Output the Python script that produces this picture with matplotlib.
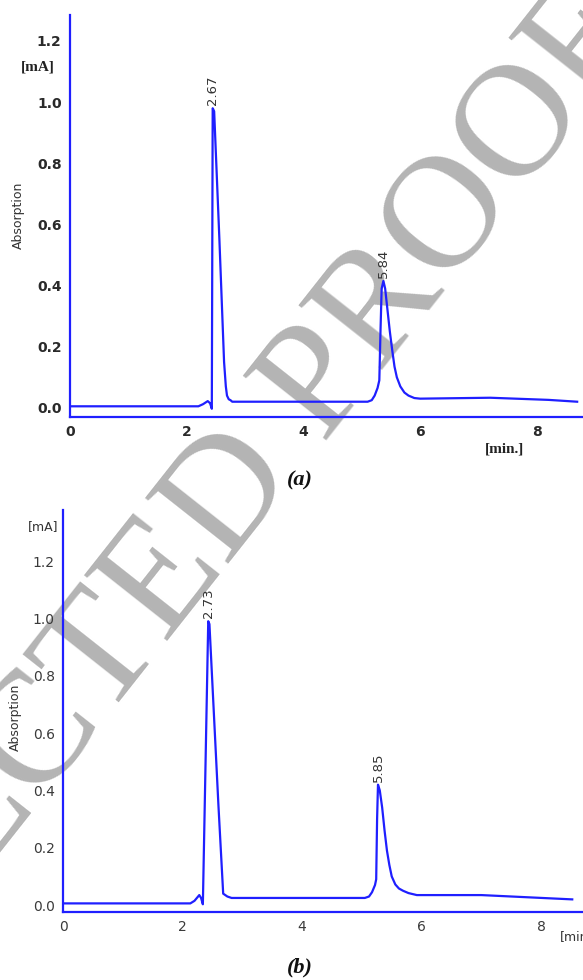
import matplotlib
matplotlib.use("Agg")
import matplotlib.pyplot as plt

# ---- data ----
t_a = [0.0, 2.20, 2.28, 2.36, 2.40, 2.43, 2.445, 2.47, 2.56, 2.64, 2.67, 2.69, 2.72, 2.75, 2.78, 3.0,
       5.10, 5.17, 5.22, 5.27, 5.30, 5.32, 5.34, 5.37, 5.40, 5.44, 5.48, 5.52, 5.56, 5.60, 5.66, 5.73,
       5.80, 5.90, 6.0, 7.2, 8.2, 8.69]
y_a = [0.005, 0.005, 0.012, 0.022, 0.015, -0.003, 0.98, 0.97, 0.55, 0.15, 0.07, 0.04, 0.028, 0.025, 0.02, 0.02,
       0.02, 0.025, 0.04, 0.065, 0.09, 0.25, 0.39, 0.415, 0.39, 0.32, 0.25, 0.19, 0.135, 0.10, 0.07, 0.05,
       0.04, 0.032, 0.03, 0.033, 0.026, 0.02]

t_b = [0.0, 2.13, 2.20, 2.28, 2.31, 2.34, 2.43, 2.45, 2.60, 2.68, 2.75, 2.82,
       5.05, 5.12, 5.17, 5.22, 5.24, 5.255, 5.27, 5.30, 5.34, 5.38, 5.42, 5.46, 5.50, 5.56, 5.62, 5.69,
       5.78, 5.92, 7.0, 8.52]
y_b = [0.006, 0.006, 0.015, 0.035, 0.025, 0.003, 0.99, 0.98, 0.35, 0.04, 0.03, 0.025,
       0.025, 0.03, 0.045, 0.07, 0.09, 0.30, 0.42, 0.40, 0.34, 0.26, 0.19, 0.14, 0.10, 0.072, 0.058, 0.05,
       0.042, 0.035, 0.035, 0.02]

peaks_a = [(2.445, 0.98, "2.67"), (5.37, 0.415, "5.84")]
peaks_b = [(2.43, 0.99, "2.73"), (5.27, 0.42, "5.85")]

yticks = [0.0, 0.2, 0.4, 0.6, 0.8, 1.0, 1.2]
xticks = [0, 2, 4, 6, 8]

BLUE = "#1f1fff"
W, H = 583, 980
fig = plt.figure(figsize=(W / 100, H / 100), dpi=100)

def fx(px):
    return px / W

def fy(py):
    return 1 - py / H

# watermark (partly outside the page, as in the reference)
fig.text(fx(72), fy(699), "UNCORRECTED PROOF", rotation=51.7, rotation_mode="anchor",
         ha="center", va="center", fontsize=116, family="Liberation Serif",
         color="#b4b4b4", zorder=-5)

def make_panel(rect, t, y, peaks, xlim, ylim, bold, tickcol):
    ax = fig.add_axes(rect)
    ax.set_facecolor("none")
    ax.plot(t, y, color=BLUE, lw=1.6, solid_joinstyle="round")
    ax.set_xlim(*xlim)
    ax.set_ylim(*ylim)
    for s in ("top", "right"):
        ax.spines[s].set_visible(False)
    for s in ("left", "bottom"):
        ax.spines[s].set_color(BLUE)
        ax.spines[s].set_linewidth(1.6)
    ax.set_xticks(xticks)
    ax.set_yticks(yticks)
    ax.set_yticklabels([f"{v:.1f}" for v in yticks])
    ax.tick_params(length=0, pad=6, labelsize=10, colors=tickcol)
    for lab in ax.get_xticklabels() + ax.get_yticklabels():
        lab.set_fontweight("bold" if bold else "normal")
    for (px, py, lab) in peaks:
        ax.annotate(lab, (px, py), xytext=(0, 2), textcoords="offset points",
                    rotation=90, ha="center", va="bottom", fontsize=9.5, color="#333333")
    return ax

ax1 = make_panel([fx(70), fy(417), 1 - fx(70), fy(15) - fy(417)], t_a, y_a, peaks_a,
                 (0, 8.79), (-0.03, 1.285), True, "#2a2a2a")
ax2 = make_panel([fx(63), fy(912), 1 - fx(63), fy(510) - fy(912)], t_b, y_b, peaks_b,
                 (0, 8.70), (-0.024, 1.378), False, "#3a3a3a")

# panel labels / units
fig.text(fx(38), fy(67), "[mA]", ha="center", va="center", fontsize=11,
         family="Liberation Serif", fontweight="bold", color="#222222")
fig.text(fx(18), fy(215), "Absorption", rotation=90, ha="center", va="center",
         fontsize=9, color="#333333")
fig.text(fx(505), fy(449), "[min.]", ha="center", va="center", fontsize=11,
         family="Liberation Serif", fontweight="bold", color="#222222")
fig.text(fx(300), fy(480), "(a)", ha="center", va="center", fontsize=16,
         family="Liberation Serif", fontweight="bold", fontstyle="italic", color="#111111")

fig.text(fx(43), fy(527), "[mA]", ha="center", va="center", fontsize=9, color="#333333")
fig.text(fx(15), fy(717), "Absorption", rotation=90, ha="center", va="center",
         fontsize=9, color="#333333")
fig.text(fx(560), fy(937), "[min.]", ha="left", va="center", fontsize=9, color="#333333")
fig.text(fx(300), fy(967), "(b)", ha="center", va="center", fontsize=16,
         family="Liberation Serif", fontweight="bold", fontstyle="italic", color="#111111")

fig.savefig("out.png", dpi=100)
